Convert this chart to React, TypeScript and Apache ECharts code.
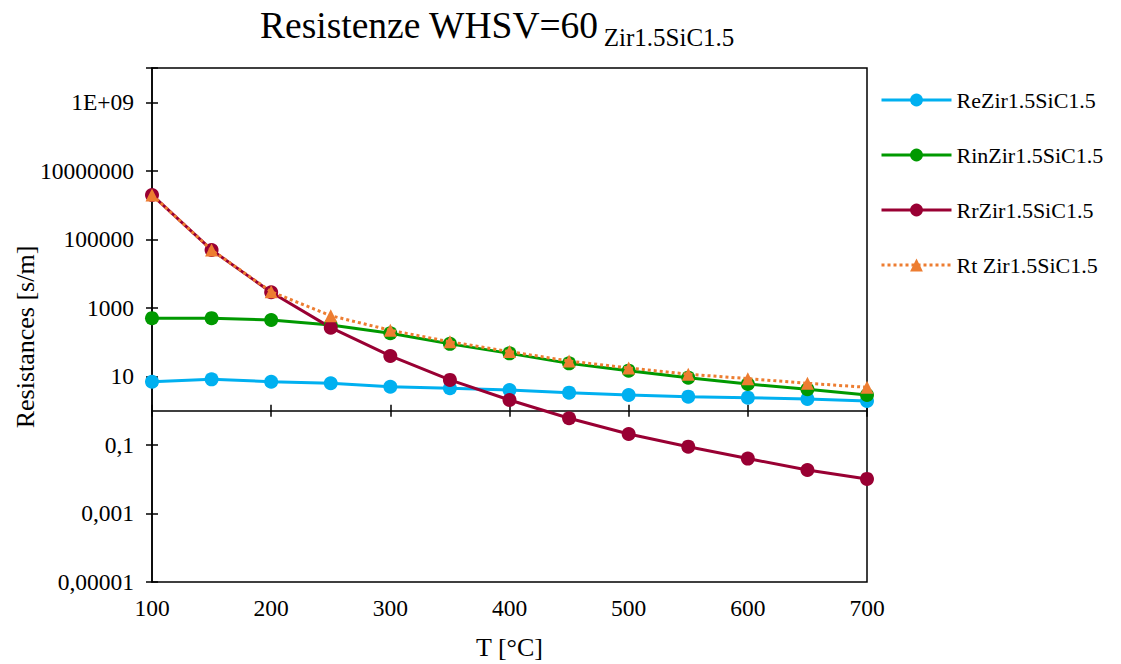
import React, { useEffect, useRef } from "react";
import * as echarts from "echarts";

const temperatures = [100, 150, 200, 250, 300, 350, 400, 450, 500, 550, 600, 650, 700];
const reValues = [7.0, 8.2, 7.0, 6.3, 5.0, 4.5, 4.0, 3.35, 2.87, 2.56, 2.4, 2.2, 1.92];
const rinValues = [500, 500, 443, 316, 182, 89, 47, 24, 14.7, 9.2, 6.0, 4.2, 2.87];
const rrValues = [1.97e6, 4.9e4, 2850, 265, 39.5, 7.9, 2.05, 0.6, 0.209, 0.089, 0.04, 0.0186, 0.0102];
const rtValues = [1.97e6, 4.9e4, 2960, 590, 222, 102, 53, 28, 17.6, 11.6, 8.6, 6.3, 4.8];

const seriesNames = ["ReZir1.5SiC1.5", "RinZir1.5SiC1.5", "RrZir1.5SiC1.5", "Rt Zir1.5SiC1.5"];
const yTickLabels: Record<string, string> = {
  "-5": "0,00001",
  "-3": "0,001",
  "-1": "0,1",
  "1": "10",
  "3": "1000",
  "5": "100000",
  "7": "10000000",
  "9": "1E+09",
};

const FONT = "'Liberation Serif', 'Times New Roman', serif";

export default function App() {
  const ref = useRef<HTMLDivElement>(null);
  useEffect(() => {
    document.body.style.margin = "0";
    if (!ref.current) return;
    const chart = echarts.init(ref.current, undefined, { renderer: "svg" });
    const gridTop = 68;
    const gridBottom = 82;
    const gridHeight = 664 - gridTop - gridBottom;
    const zeroOffset = -(gridHeight * 5) / 15;
    const xBase = {
      type: "value" as const,
      min: 100,
      max: 700,
      interval: 100,
      splitLine: { show: false },
    };
    const yBase = {
      type: "log" as const,
      logBase: 10,
      min: 1e-5,
      max: 1e10,
      interval: 2,
      splitLine: { show: false },
      minorTick: { show: false },
    };
    const lineSeries = (name: string, data: number[], color: string, symbol: string, dotted: boolean) => ({
      name,
      type: "line" as const,
      data: temperatures.map((t, i) => [t, data[i]]),
      symbol,
      symbolSize: dotted ? 13 : 14,
      showSymbol: true,
      lineStyle: { color, width: 3, type: dotted ? ("dotted" as const) : ("solid" as const) },
      itemStyle: { color },
      z: dotted ? 5 : 3,
    });
    chart.setOption({
      animation: false,
      backgroundColor: "#fff",
      title: {
        text: "{a|Resistenze WHSV=60} {b|Zir1.5SiC1.5}",
        left: 255,
        top: -5,
        textStyle: {
          fontWeight: "normal",
          rich: {
            a: { fontSize: 37.5, fontFamily: FONT, fontWeight: "normal", color: "#000", lineHeight: 44, verticalAlign: "bottom" },
            b: { fontSize: 25, fontFamily: FONT, fontWeight: "normal", color: "#000", lineHeight: 24, verticalAlign: "bottom", padding: [0, 0, -6, 0] },
          },
        },
      },
      legend: {
        orient: "vertical",
        left: 880,
        top: 89,
        padding: 0,
        itemGap: 33,
        itemWidth: 70,
        itemHeight: 16,
        lineStyle: { width: 3 },
        textStyle: { fontSize: 22, fontFamily: FONT, color: "#000" },
        data: seriesNames,
      },
      grid: {
        left: 152,
        right: 254,
        top: gridTop,
        bottom: gridBottom,
        outerBoundsMode: "none",
        containLabel: false,
        show: true,
        borderColor: "#000",
        borderWidth: 1.5,
        backgroundColor: "transparent",
      },
      xAxis: [
        {
          ...xBase,
          position: "bottom",
          axisLine: { show: false },
          axisTick: { show: false },
          axisLabel: { fontSize: 23.5, fontFamily: FONT, color: "#000", margin: 14 },
          name: "T [°C]",
          nameLocation: "middle",
          nameGap: 52,
          nameMoveOverlap: false,
          nameTextStyle: { fontSize: 26, fontFamily: FONT, color: "#000" },
        },
        {
          ...xBase,
          position: "bottom",
          offset: zeroOffset,
          axisLine: { show: true, lineStyle: { color: "#000", width: 1.5 } },
          axisTick: { show: true, length: 6, lineStyle: { color: "#000", width: 1.5 } },
          axisLabel: { show: false },
        },
        {
          ...xBase,
          position: "bottom",
          offset: zeroOffset,
          axisLine: { show: false },
          axisTick: { show: true, inside: true, length: 6, lineStyle: { color: "#000", width: 1.5 } },
          axisLabel: { show: false },
        },
      ],
      yAxis: [
        {
          ...yBase,
          position: "left",
          axisLine: { show: true, lineStyle: { color: "#000", width: 1.5 } },
          axisTick: { show: true, length: 6, lineStyle: { color: "#000", width: 1.5 } },
          axisLabel: {
            fontSize: 23.5,
            fontFamily: FONT,
            color: "#000",
            margin: 18,
            formatter: (v: number) => yTickLabels[String(Math.round(Math.log10(v)))] ?? "",
          },
          name: "Resistances [s/m]",
          nameLocation: "middle",
          nameGap: 114,
          nameMoveOverlap: false,
          nameTextStyle: { fontSize: 26, fontFamily: FONT, color: "#000", padding: [0, 24, 0, 0] },
        },
        {
          ...yBase,
          position: "left",
          axisLine: { show: false },
          axisTick: { show: true, inside: true, length: 6, lineStyle: { color: "#000", width: 1.5 } },
          axisLabel: { show: false },
        },
      ],
      series: [
        lineSeries(seriesNames[0], reValues, "#00B0F0", "circle", false),
        lineSeries(seriesNames[1], rinValues, "#009900", "circle", false),
        lineSeries(seriesNames[2], rrValues, "#990033", "circle", false),
        lineSeries(seriesNames[3], rtValues, "#ED7D31", "triangle", true),
      ],
    });
    return () => chart.dispose();
  }, []);
  return <div ref={ref} style={{ width: 1121, height: 664 }} />;
}
